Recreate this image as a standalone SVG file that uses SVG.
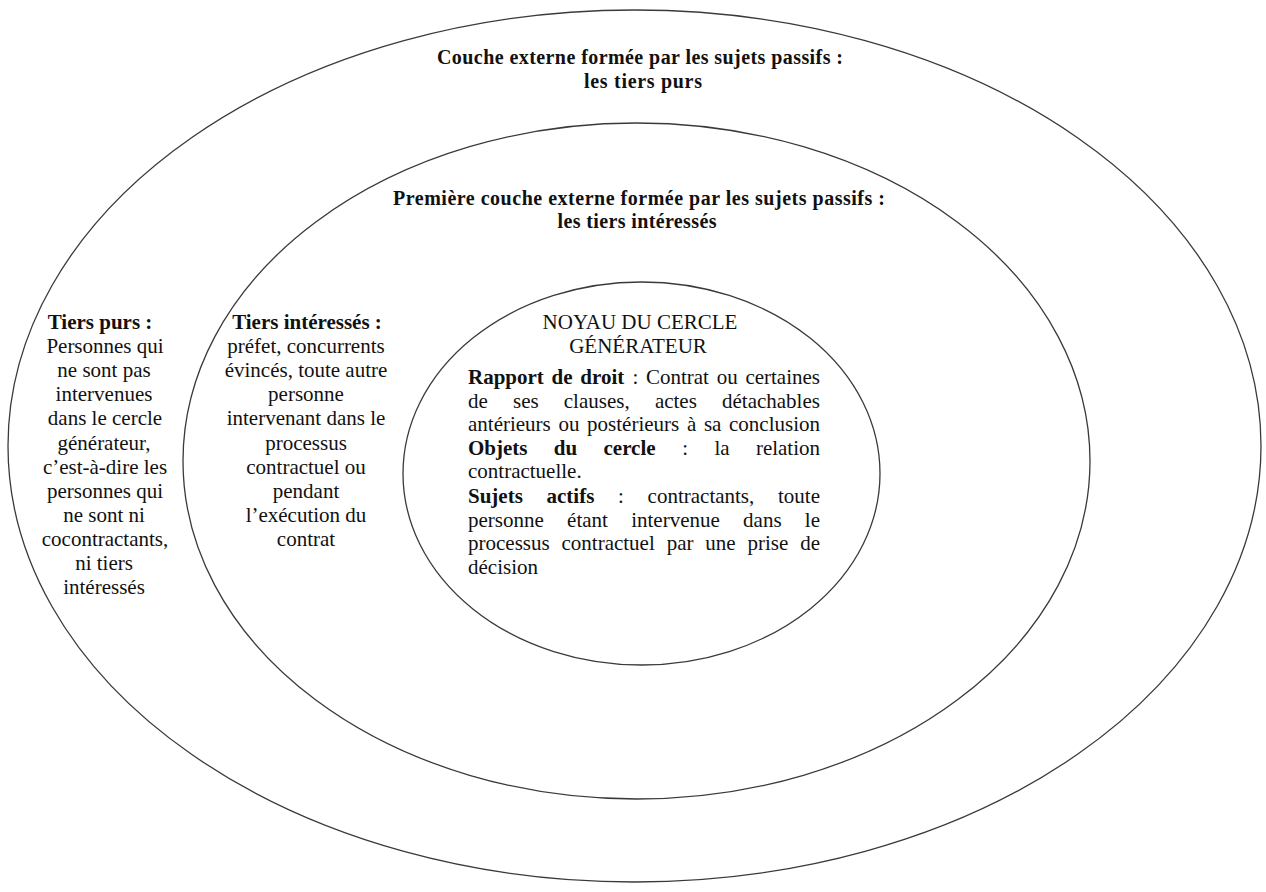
<svg xmlns="http://www.w3.org/2000/svg" width="1266" height="892" viewBox="0 0 1266 892">
<style>
.ring{fill:none;stroke:#3a3a3a;stroke-width:1.3}
.t{font-family:"Liberation Serif","Times New Roman",serif;font-size:21px;fill:#111}
.tt{font-family:"Liberation Serif","Times New Roman",serif;font-size:20px;font-weight:bold;fill:#111}
.c{text-anchor:middle}
.b{font-weight:bold}
</style>
<rect width="1266" height="892" fill="#fff"/>
<g id="outer-layer">
  <ellipse class="ring" cx="634.5" cy="446" rx="626.5" ry="436"/>
  <text class="tt c" x="640" y="64" textLength="406" lengthAdjust="spacing">Couche externe formée par les sujets passifs :</text>
  <text class="tt c" x="643" y="88" textLength="118" lengthAdjust="spacing">les tiers purs</text>
  <g id="tiers-purs">
    <text class="t c b" x="100" y="329">Tiers purs :</text>
    <text class="t c" x="105" y="353.1">Personnes qui</text>
    <text class="t c" x="104" y="377.2">ne sont pas</text>
    <text class="t c" x="104" y="401.3">intervenues</text>
    <text class="t c" x="105" y="425.4">dans le cercle</text>
    <text class="t c" x="104" y="449.5">générateur,</text>
    <text class="t c" x="105" y="473.6">c’est-à-dire les</text>
    <text class="t c" x="105" y="497.7">personnes qui</text>
    <text class="t c" x="104" y="521.8">ne sont ni</text>
    <text class="t c" x="105" y="545.9">cocontractants,</text>
    <text class="t c" x="104" y="570">ni tiers</text>
    <text class="t c" x="104" y="594.1">intéressés</text>
  </g>
</g>
<g id="middle-layer">
  <ellipse class="ring" cx="636.5" cy="461" rx="453.5" ry="338"/>
  <text class="tt c" x="639" y="205" textLength="492" lengthAdjust="spacing">Première couche externe formée par les sujets passifs :</text>
  <text class="tt c" x="637" y="228" textLength="159" lengthAdjust="spacing">les tiers intéressés</text>
  <g id="tiers-interesses">
    <text class="t c b" x="307" y="329">Tiers intéressés :</text>
    <text class="t c" x="306" y="353.1">préfet, concurrents</text>
    <text class="t c" x="306" y="377.2">évincés, toute autre</text>
    <text class="t c" x="306" y="401.3">personne</text>
    <text class="t c" x="306" y="425.4">intervenant dans le</text>
    <text class="t c" x="306" y="449.5">processus</text>
    <text class="t c" x="306" y="473.6">contractuel ou</text>
    <text class="t c" x="306" y="497.7">pendant</text>
    <text class="t c" x="306" y="521.8">l’exécution du</text>
    <text class="t c" x="306" y="545.9">contrat</text>
  </g>
</g>
<g id="core">
  <ellipse class="ring" cx="641.5" cy="473.5" rx="238.5" ry="191.5"/>
  <text class="t c" x="640" y="329">NOYAU DU CERCLE</text>
  <text class="t c" x="638" y="353">GÉNÉRATEUR</text>
  <text class="t" y="384"><tspan class="b" x="468">Rapport</tspan><tspan class="b" x="551.6">de</tspan><tspan class="b" x="580.3">droit</tspan><tspan x="632.4">:</tspan><tspan x="645.9">Contrat</tspan><tspan x="716.7">ou</tspan><tspan x="745.4">certaines</tspan></text>
  <text class="t" y="407.5"><tspan x="468">de</tspan><tspan x="513">ses</tspan><tspan x="563.8">clauses,</tspan><tspan x="654.9">actes</tspan><tspan x="722">détachables</tspan></text>
  <text class="t" y="431"><tspan x="468">antérieurs</tspan><tspan x="558.5">ou</tspan><tspan x="587.1">postérieurs</tspan><tspan x="686.9">à</tspan><tspan x="703.9">sa</tspan><tspan x="729">conclusion</tspan></text>
  <text class="t" y="454.5"><tspan class="b" x="468">Objets</tspan><tspan class="b" x="553.8">du</tspan><tspan class="b" x="603.5">cercle</tspan><tspan x="682.2">:</tspan><tspan x="714.4">la</tspan><tspan x="755.9">relation</tspan></text>
  <text class="t" x="468" y="478">contractuelle.</text>
  <text class="t" y="503"><tspan class="b" x="468">Sujets</tspan><tspan class="b" x="546.5">actifs</tspan><tspan x="618">:</tspan><tspan x="647.6">contractants,</tspan><tspan x="778">toute</tspan></text>
  <text class="t" y="526.5"><tspan x="468">personne</tspan><tspan x="567.1">étant</tspan><tspan x="631.2">intervenue</tspan><tspan x="743.1">dans</tspan><tspan x="804.8">le</tspan></text>
  <text class="t" y="550"><tspan x="468">processus</tspan><tspan x="561.5">contractuel</tspan><tspan x="666.7">par</tspan><tspan x="705.3">une</tspan><tspan x="747.5">prise</tspan><tspan x="800.2">de</tspan></text>
  <text class="t" x="468" y="573.5">décision</text>
</g>
</svg>
